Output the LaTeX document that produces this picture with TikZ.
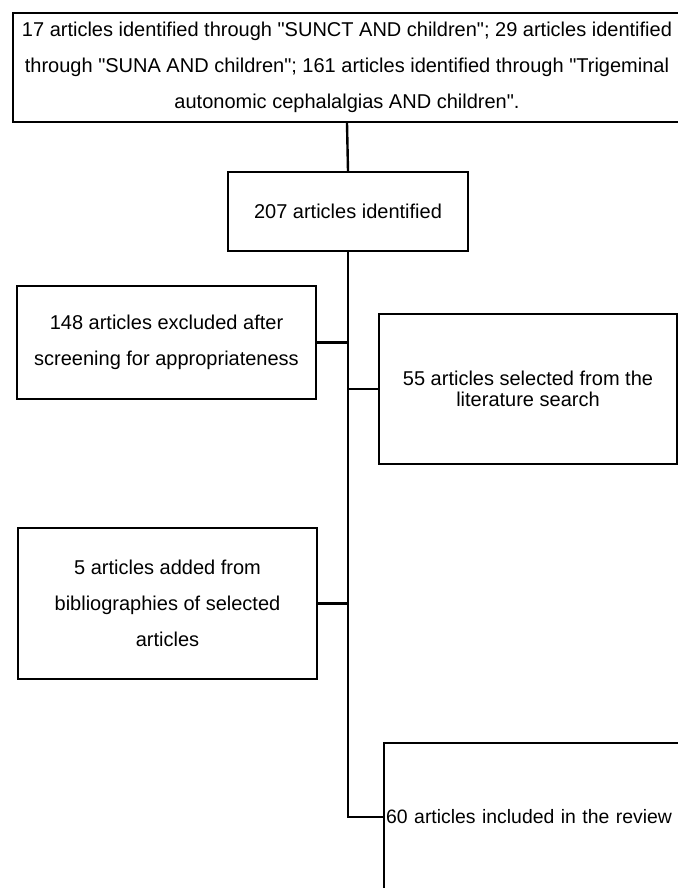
\documentclass[tikz,border=0pt]{standalone}
\usepackage{fontspec}
\setmainfont{Liberation Sans}
\newcommand{\qq}{\textquotedbl}
\tikzset{
  box/.style={draw, line width=1.2pt, align=center, inner sep=0pt,
    font=\fontsize{10}{18}\selectfont},
  link/.style={line width=1.2pt}
}
\begin{document}
\begin{tikzpicture}[x=0.5pt, y=-0.5pt]
\useasboundingbox (0,0) rectangle (678,888);
\clip (0,0) rectangle (678,888);
\node[box, minimum width=334pt, minimum height=54.5pt] (search) at (347,67.5)
  {17 articles identified through \qq SUNCT AND children\qq; 29 articles identified\\
   through \qq SUNA AND children\qq; 161 articles identified through \qq Trigeminal\\
   autonomic cephalalgias AND children\qq.};
\node[box, minimum width=120pt, minimum height=39.5pt] (found) at (348,211.5) {207 articles identified};
\node[box, minimum width=149.5pt, minimum height=56.5pt] (excluded) at (166.5,342.5)
  {148 articles excluded after\\ screening for appropriateness};
\node[box, minimum width=149pt, minimum height=75pt, font=\fontsize{10}{10.5}\selectfont] (selected) at (528,389)
  {55 articles selected from the\\ literature search};
\node[box, anchor=west, align=left, inner xsep=1pt, text width=200pt, minimum height=74pt,
  font=\fontsize{9.7}{12}\selectfont] (included) at (383,817)
  {60 articles included in the review};
\node[box, minimum width=149.5pt, minimum height=75.5pt] (added) at (167.5,603.5)
  {5 articles added from\\ bibliographies of selected\\ articles};
\coordinate (turn) at (348,817);
\draw[link] (search.south) -- (found.north);
\draw[link] (found.south) -- (turn) -- (included.west);
\draw[link] (excluded.east) -- (excluded.east -| turn);
\draw[link] (selected.west) -- (selected.west -| turn);
\draw[link] (added.east) -- (added.east -| turn);
\end{tikzpicture}
\end{document}
